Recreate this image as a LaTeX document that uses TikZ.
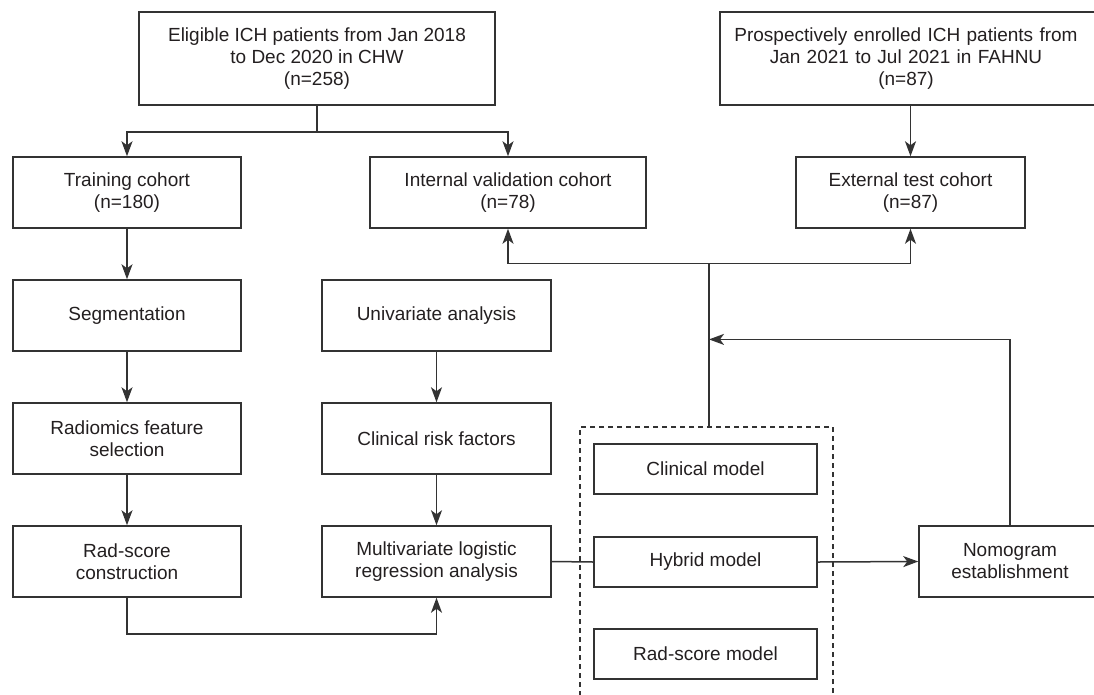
\documentclass[tikz,border=0pt]{standalone}
\usepackage{fontspec}
\setmainfont{Liberation Sans}
\usetikzlibrary{arrows.meta,calc}
\definecolor{ln}{HTML}{333333}
\definecolor{tx}{HTML}{231F20}
\begin{document}
\begin{tikzpicture}[x=1pt,y=-1pt,
  box/.style={draw=ln,line width=1.5pt,rectangle,inner sep=0pt,align=center,text=tx,
    font=\fontsize{19}{22}\selectfont},
  arr/.style={draw=ln,line width=1.5pt,-{Stealth[length=15pt,width=11pt,inset=4pt]}},
  con/.style={draw=ln,line width=1.5pt},
  dbox/.style={draw=ln,line width=1.2pt,dash pattern=on 5pt off 4pt,rectangle,inner sep=0pt}]
\useasboundingbox (0,0) rectangle (1094,694);
% top row
\node[box,minimum width=356pt,minimum height=93pt] (top1) at (317,58.5)
  {Eligible ICH patients from Jan 2018\\to Dec 2020 in CHW\\(n=258)};
\node[box,minimum width=376pt,minimum height=93pt,text width=372pt] (top2) at (908,58.5)
  {\hspace*{-4pt}Prospectively enrolled ICH patients from\\\hspace*{-4pt}Jan 2021 to Jul 2021 in FAHNU\\\hspace*{-4pt}(n=87)};
% cohorts
\node[box,minimum width=228pt,minimum height=71pt] (train) at (127,192.5) {Training cohort\\(n=180)};
\node[box,minimum width=276pt,minimum height=71pt] (intv) at (508,192.5) {Internal validation cohort\\(n=78)};
\node[box,minimum width=229pt,minimum height=71pt] (ext) at (910.5,192.5) {External test cohort\\(n=87)};
% left column
\node[box,minimum width=228pt,minimum height=71pt] (seg) at (127,315.5) {Segmentation};
\node[box,minimum width=228pt,minimum height=71pt] (rad) at (127,438.5) {Radiomics feature\\selection};
\node[box,minimum width=228pt,minimum height=71pt] (rsc) at (127,561.5) {Rad-score\\construction};
% middle column
\node[box,minimum width=229pt,minimum height=71pt] (uni) at (436.5,315.5) {Univariate analysis};
\node[box,minimum width=229pt,minimum height=71pt] (crf) at (436.5,438.5) {Clinical risk factors};
\node[box,minimum width=229pt,minimum height=71pt] (mlr) at (436.5,561.5) {Multivariate logistic\\regression analysis};
% models
\node[dbox,minimum width=253pt,minimum height=283pt] (models) at (706.5,568.5) {};
\node[box,minimum width=223pt,minimum height=50pt] (clin) at (705.5,469) {Clinical model};
\node[box,minimum width=223pt,minimum height=50pt] (hyb) at (705.5,562) {Hybrid model};
\node[box,minimum width=223pt,minimum height=50pt] (rsm) at (705.5,654) {Rad-score model};
% nomogram
\node[box,minimum width=182pt,minimum height=71pt] (nomo) at (1010,561.5) {Nomogram\\establishment};
% connectors
\draw[arr] (top1.south) -- ++(0,26) -| (train.north);
\draw[arr] (top1.south) -- ++(0,26) -| (intv.north);
\draw[arr] (top2.south -| ext.north) -- (ext.north);
\draw[arr] (train) -- (seg);
\draw[arr] (seg) -- (rad);
\draw[arr] (rad) -- (rsc);
\draw[arr] (uni) -- (crf);
\draw[arr] (crf) -- (mlr);
\draw[arr] (rsc.south) -- ++(0,36) -| (mlr.south);
\draw[con] (mlr.east) -- (hyb.west);
\draw[arr] (hyb.east) -- (nomo.west);
\coordinate (hub) at ($(models.north)+(2.5,-163)$);
\coordinate (join) at ($(models.north)+(2.5,-87)$);
\draw[con] ($(models.north)+(2.5,0)$) -- (hub);
\draw[arr] (hub) -| (intv.south);
\draw[arr] (hub) -| (ext.south);
\draw[arr] (nomo.north) |- (join);
\end{tikzpicture}
\end{document}
